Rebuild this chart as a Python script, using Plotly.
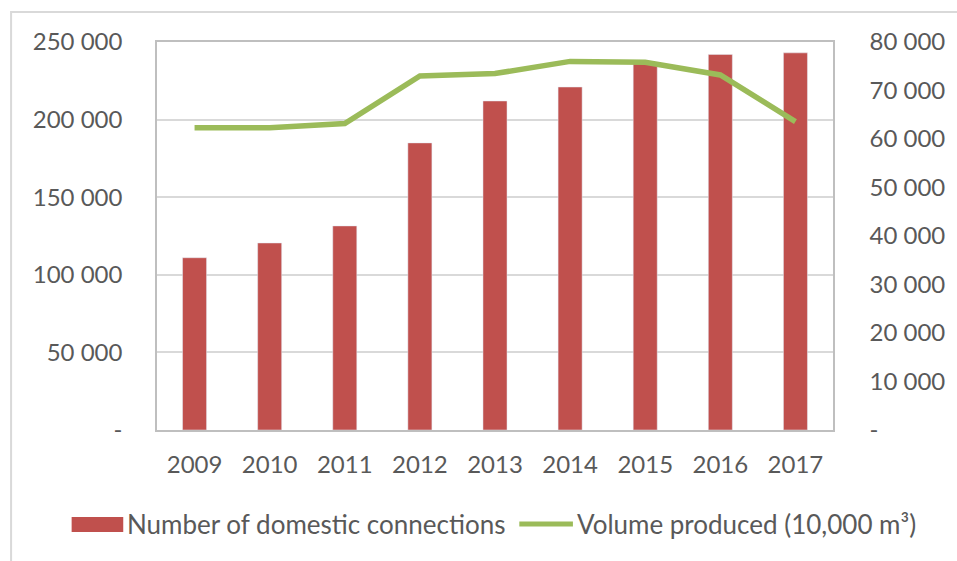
import plotly.graph_objects as go

# ---- data ----
years = ["2009", "2010", "2011", "2012", "2013", "2014", "2015", "2016", "2017"]
connections = [111000, 120500, 131500, 185000, 212000, 221000, 236000, 242000, 243000]
volume = [62300, 62300, 63200, 73000, 73500, 76000, 75800, 73200, 63600]

left_ticks = [0, 50000, 100000, 150000, 200000, 250000]
left_labels = ["-", "50 000", "100 000", "150 000", "200 000", "250 000"]
right_ticks = [0, 10000, 20000, 30000, 40000, 50000, 60000, 70000, 80000]
right_labels = ["-", "10 000", "20 000", "30 000", "40 000", "50 000", "60 000", "70 000", "80 000"]

bar_name = "Number of domestic connections"
line_name = "Volume produced (10,000 m³)"

BAR_C = "#C0504D"
LINE_C = "#9BBB59"
TXT_C = "#595959"
GRID_C = "#D9D9D9"
AX_C = "#BFBFBF"
FONT = "Lato"

W, H = 957, 561
L, R, T, B = 157, 838, 42, 430  # plot area in pixels


def px(x):
    return (x - L) / (R - L)


def py(y):
    return (B - y) / (B - T)


fig = go.Figure()
fig.add_trace(go.Bar(x=years, y=connections, name=bar_name, marker_color=BAR_C,
                     width=0.32, yaxis="y", showlegend=False))
fig.add_trace(go.Scatter(x=years, y=volume, name=line_name, mode="lines",
                         line=dict(color=LINE_C, width=5.5), yaxis="y2", showlegend=False))

fig.update_layout(
    width=W, height=H, autosize=False,
    margin=dict(l=L, r=W - R, t=T, b=H - B, pad=0),
    paper_bgcolor="white", plot_bgcolor="white",
    font=dict(family=FONT, size=24, color=TXT_C),
    xaxis=dict(type="category", showline=True, linecolor=AX_C, linewidth=1.5,
               mirror=True, showgrid=False, ticks="", ticklabelstandoff=12,
               tickfont=dict(size=24, color=TXT_C, family=FONT)),
    yaxis=dict(range=[0, 250000], tickvals=left_ticks, ticktext=left_labels,
               showgrid=True, gridcolor=GRID_C, gridwidth=1.5, zeroline=False,
               showline=True, linecolor=AX_C, linewidth=1.5, ticks="",
               ticklabelstandoff=28, tickfont=dict(size=24, color=TXT_C, family=FONT)),
    yaxis2=dict(range=[0, 80000], tickvals=right_ticks, ticktext=right_labels,
                overlaying="y", side="right", showgrid=False, zeroline=False,
                showline=True, linecolor=AX_C, linewidth=1.5, ticks="",
                ticklabelstandoff=30, tickfont=dict(size=24, color=TXT_C, family=FONT)),
    showlegend=False,
)

# outer chart border (light gray frame)
fig.add_shape(type="rect", xref="paper", yref="paper",
              x0=px(10), x1=px(1000), y0=py(12), y1=py(620),
              line=dict(color=GRID_C, width=2), fillcolor="rgba(0,0,0,0)", layer="below")

# custom legend
fig.add_shape(type="rect", xref="paper", yref="paper",
              x0=px(71), x1=px(123), y0=py(532), y1=py(517),
              line=dict(width=0), fillcolor=BAR_C)
fig.add_annotation(x=px(125), y=py(524), xref="paper", yref="paper", text=bar_name,
                   showarrow=False, xanchor="left", yanchor="middle",
                   font=dict(family=FONT, size=26, color=TXT_C))
fig.add_shape(type="line", xref="paper", yref="paper",
              x0=px(522), x1=px(576), y0=py(524), y1=py(524),
              line=dict(color=LINE_C, width=5))
fig.add_annotation(x=px(578), y=py(524), xref="paper", yref="paper", text=line_name,
                   showarrow=False, xanchor="left", yanchor="middle",
                   font=dict(family=FONT, size=26, color=TXT_C))

fig.write_html("out.html", config={"displayModeBar": False},
               post_script="document.body.style.margin='0';")
